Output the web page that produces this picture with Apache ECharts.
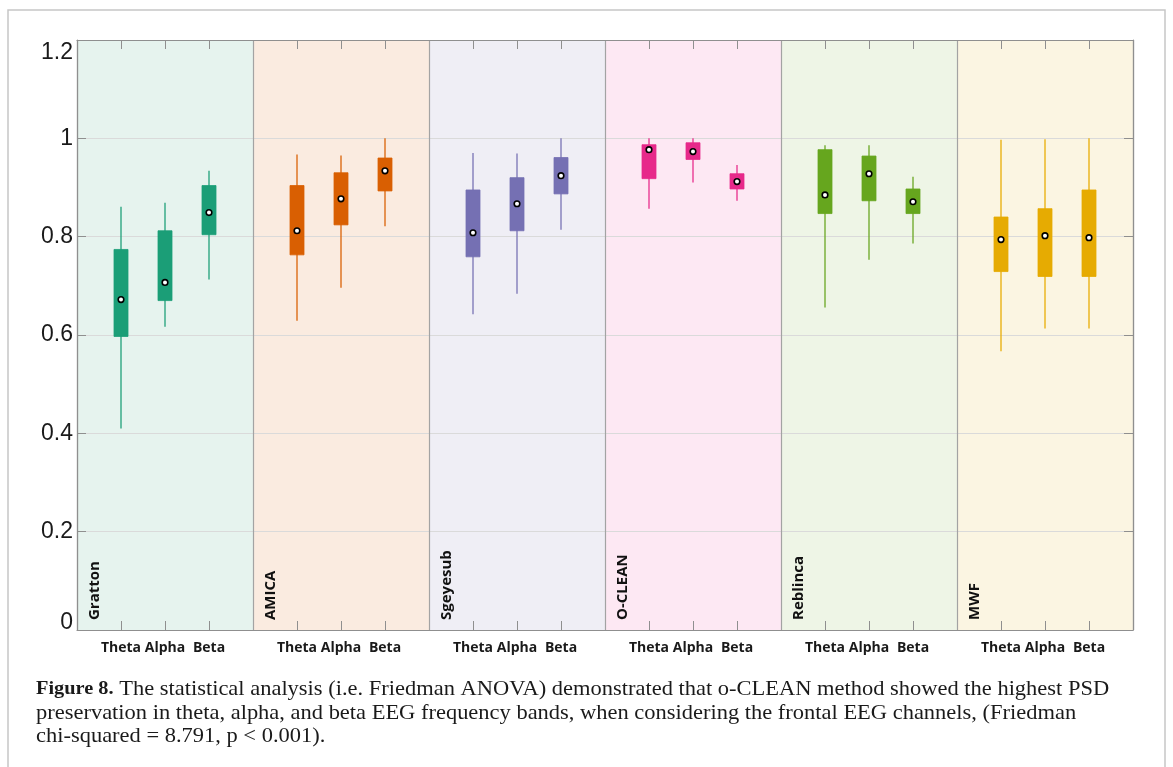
<!DOCTYPE html>
<html>
<head>
<meta charset="utf-8">
<style>
  html, body { margin: 0; padding: 0; background: #ffffff; }
  #chart { width: 1173px; height: 767px; }
</style>
<script src="https://cdn.jsdelivr.net/npm/echarts@6/dist/echarts.min.js"></script>
</head>
<body>
<div id="chart"></div>
<script>
// Artifact-removal methods (one panel each) and EEG frequency bands
const methods = ['Gratton', 'AMICA', 'Sgeyesub', 'O-CLEAN', 'Reblinca', 'MWF'];
const bands = ['Theta', 'Alpha', 'Beta'];

// Per band: [lower whisker, Q1, median, Q3, upper whisker]
const gratton  = [[0.410, 0.597, 0.672, 0.774, 0.861], [0.617, 0.670, 0.707, 0.812, 0.869], [0.713, 0.804, 0.849, 0.904, 0.934]];
const amica    = [[0.629, 0.763, 0.812, 0.904, 0.967], [0.696, 0.824, 0.877, 0.930, 0.965], [0.821, 0.893, 0.934, 0.960, 1.000]];
const sgeyesub = [[0.642, 0.759, 0.808, 0.895, 0.970], [0.684, 0.812, 0.867, 0.920, 0.969], [0.814, 0.887, 0.924, 0.961, 1.000]];
const oclean   = [[0.857, 0.918, 0.977, 0.987, 1.000], [0.910, 0.957, 0.973, 0.991, 1.000], [0.873, 0.897, 0.912, 0.928, 0.946]];
const reblinca = [[0.656, 0.847, 0.885, 0.977, 0.986], [0.753, 0.873, 0.928, 0.964, 0.986], [0.786, 0.847, 0.871, 0.897, 0.922]];
const mwf      = [[0.567, 0.729, 0.794, 0.840, 0.997], [0.613, 0.719, 0.802, 0.857, 0.998], [0.613, 0.719, 0.798, 0.895, 1.000]];

const yTicks = [0, 0.2, 0.4, 0.6, 0.8, 1, 1.2];

const captionLines = [
  '{b|Figure 8.} The statistical analysis (i.e. Friedman ANOVA) demonstrated that o-CLEAN method showed the highest PSD',
  'preservation in theta, alpha, and beta EEG frequency bands, when considering the frontal EEG channels, (Friedman',
  'chi-squared = 8.791, p < 0.001).'
];

// Styling
const boxColors = ['#1b9e77', '#d95f02', '#7570b3', '#e7298a', '#66a61e', '#e6ab02'];
const panelColors = ['#e6f3ee', '#faebe0', '#efeef5', '#fde8f3', '#eef5e6', '#fbf5e2'];

const allStats = [gratton, amica, sgeyesub, oclean, reblinca, mwf];
const slotsPerPanel = bands.length + 1;
const xMax = methods.length * slotsPerPanel;

// Box data: [x slot, lower, q1, median, q3, upper, method index]
const boxData = [];
allStats.forEach((stats, m) => {
  stats.forEach((s, b) => {
    boxData.push([m * slotsPerPanel + b + 1, s[0], s[1], s[2], s[3], s[4], m]);
  });
});

// Panel data: [start slot, end slot, method index]
const panelData = methods.map((name, m) => [m * slotsPerPanel, (m + 1) * slotsPerPanel, m]);

// Category labels for the band ticks under each panel
const bandLabels = [];
methods.forEach(() => { bandLabels.push(''); bands.forEach(b => bandLabels.push(b)); });
bandLabels.push('');

const axisGray = '#8f8f8f';
const bandTickInterval = (i) => i % slotsPerPanel !== 0;

const chart = echarts.init(document.getElementById('chart'));

chart.setOption({
  backgroundColor: '#ffffff',
  animation: false,
  grid: { left: 77, right: 40, top: 40, bottom: 137, containLabel: false },
  xAxis: [
    {
      type: 'value', min: 0, max: xMax, interval: slotsPerPanel, position: 'bottom',
      axisLine: { show: true, lineStyle: { color: axisGray, width: 1.2 } },
      axisTick: { show: false },
      axisLabel: { show: false },
      splitLine: { show: true, lineStyle: { color: '#a3a3a3', width: 1.2 } }
    },
    {
      type: 'category', data: bandLabels, boundaryGap: false, position: 'bottom',
      axisLine: { show: false },
      axisTick: { show: true, inside: true, length: 9, interval: bandTickInterval, lineStyle: { color: axisGray, width: 1 } },
      axisLabel: { interval: 0, margin: 11, fontFamily: 'Open Sans', fontWeight: 'bold', fontSize: 14, color: '#1a1a1a' },
      splitLine: { show: false }
    },
    {
      type: 'category', data: bandLabels, boundaryGap: false, position: 'top',
      axisLine: { show: true, lineStyle: { color: axisGray, width: 1.2 } },
      axisTick: { show: true, inside: true, length: 9, interval: bandTickInterval, lineStyle: { color: axisGray, width: 1 } },
      axisLabel: { show: false },
      splitLine: { show: false }
    }
  ],
  yAxis: [
    {
      type: 'value', min: yTicks[0], max: yTicks[yTicks.length - 1], interval: 0.2, position: 'left',
      axisLine: { show: true, lineStyle: { color: axisGray, width: 1.2 } },
      axisTick: { show: true, inside: true, length: 9, lineStyle: { color: axisGray } },
      axisLabel: {
        margin: 4, fontFamily: 'Liberation Sans', fontSize: 23, color: '#1a1a1a',
        formatter: (v) => {
          const t = String(Math.round(v * 10) / 10);
          if (Math.abs(v - yTicks[yTicks.length - 1]) < 1e-6) return '{top|' + t + '}';
          if (Math.abs(v) < 1e-6) return '{bot|' + t + '}';
          return t;
        },
        rich: {
          top: { fontFamily: 'Liberation Sans', fontSize: 23, color: '#1a1a1a', padding: [26, 0, 0, 0] },
          bot: { fontFamily: 'Liberation Sans', fontSize: 23, color: '#1a1a1a', padding: [0, 0, 14, 0] }
        }
      },
      splitLine: { show: true, lineStyle: { color: '#dadada', width: 1 } }
    },
    {
      type: 'value', min: yTicks[0], max: yTicks[yTicks.length - 1], interval: 0.2, position: 'right',
      axisLine: { show: true, lineStyle: { color: axisGray, width: 1.2 } },
      axisTick: { show: true, inside: true, length: 9, lineStyle: { color: axisGray } },
      axisLabel: { show: false },
      splitLine: { show: false }
    }
  ],
  series: [
    {
      // Tinted panel backgrounds with rotated method names
      type: 'custom', name: 'panels', xAxisIndex: 0, yAxisIndex: 0, z: -1, silent: true,
      data: panelData,
      renderItem: (params, api) => {
        const m = api.value(2);
        const p0 = api.coord([api.value(0), yTicks[yTicks.length - 1]]);
        const p1 = api.coord([api.value(1), yTicks[0]]);
        return {
          type: 'group',
          children: [
            {
              type: 'rect',
              shape: { x: p0[0], y: p0[1], width: p1[0] - p0[0], height: p1[1] - p0[1] },
              style: { fill: panelColors[m] }
            },
            {
              type: 'text',
              x: p0[0] + 18, y: p1[1] - 10,
              rotation: Math.PI / 2,
              style: {
                text: methods[m], fill: '#111111',
                font: 'bold 15px "Open Sans"',
                align: 'left', verticalAlign: 'middle'
              }
            }
          ]
        };
      }
    },
    {
      // Box-and-whisker marks with median dots
      type: 'custom', name: 'boxes', xAxisIndex: 0, yAxisIndex: 0, z: 3,
      data: boxData,
      renderItem: (params, api) => {
        const x = api.value(0);
        const color = boxColors[api.value(6)];
        const lo = api.coord([x, api.value(1)]);
        const q1 = api.coord([x, api.value(2)]);
        const med = api.coord([x, api.value(3)]);
        const q3 = api.coord([x, api.value(4)]);
        const hi = api.coord([x, api.value(5)]);
        const halfW = 7;
        return {
          type: 'group',
          children: [
            {
              type: 'line',
              shape: { x1: lo[0], y1: lo[1], x2: hi[0], y2: hi[1] },
              style: { stroke: color, lineWidth: 1.5, opacity: 0.85 }
            },
            {
              type: 'rect',
              shape: { x: q3[0] - halfW, y: q3[1], width: halfW * 2, height: q1[1] - q3[1] },
              style: { fill: color, stroke: color, lineWidth: 0.8 }
            },
            {
              type: 'circle',
              shape: { cx: med[0], cy: med[1], r: 2.8 },
              style: { fill: '#ffffff', stroke: '#000000', lineWidth: 1.6 }
            }
          ]
        };
      }
    }
  ],
  graphic: [
    {
      type: 'rect', silent: true,
      shape: { x: 8, y: 10, width: 1157, height: 800 },
      style: { fill: 'none', stroke: '#c6c6c6', lineWidth: 1.5 }
    }
  ].concat(captionLines.map((line, i) => ({
    type: 'text', silent: true,
    x: 36, y: 679 + i * 23.5,
    scaleX: 1.07,
    style: {
      text: line,
      font: '21px "Liberation Serif"',
      fill: '#1a1a1a',
      align: 'left', verticalAlign: 'top',
      rich: { b: { font: 'bold 19px "Liberation Serif"', fill: '#1a1a1a' } }
    }
  })))
});
</script>
</body>
</html>
